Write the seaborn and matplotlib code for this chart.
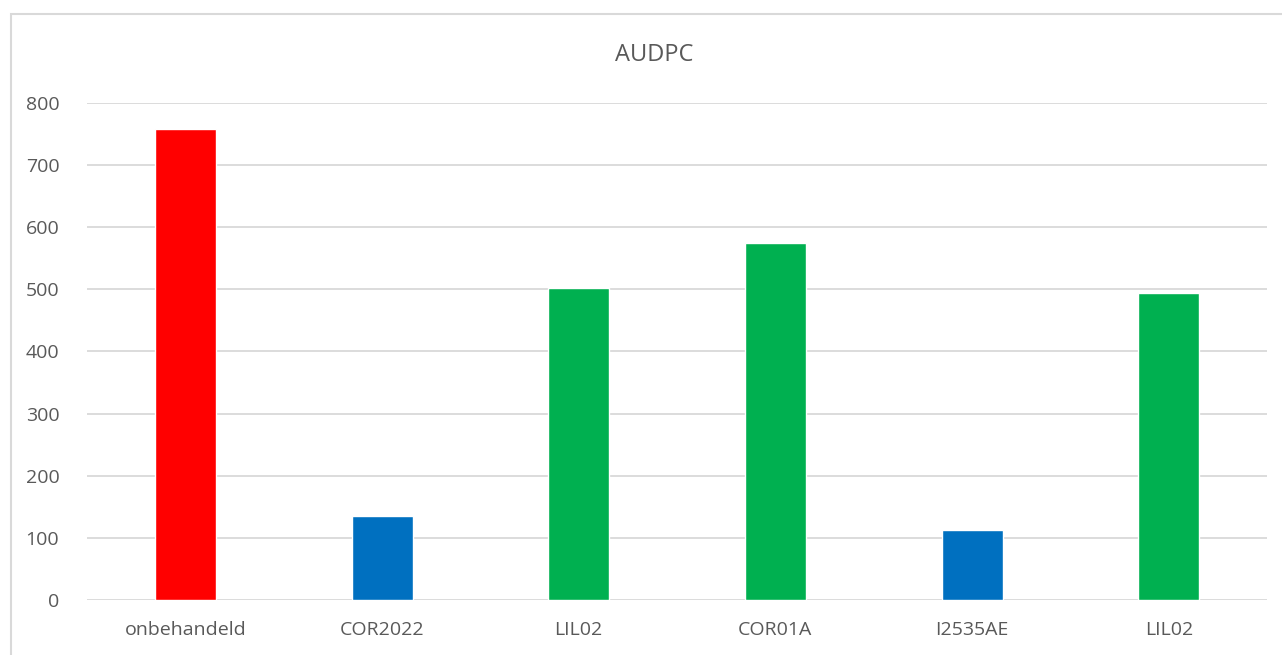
import matplotlib
matplotlib.use("Agg")
import matplotlib.pyplot as plt
import seaborn as sns
import pandas as pd
from matplotlib.patches import Rectangle

# values
labels = ["onbehandeld", "COR2022", "LIL02", "COR01A", "I2535AE", "LIL02"]
audpc = [758, 135, 502, 574, 112, 494]
bar_colors = ["#FF0000", "#0070C0", "#00B050", "#00B050", "#0070C0", "#00B050"]

# labels repeat (LIL02 twice), so plot on a position index
df = pd.DataFrame({"pos": range(len(labels)), "AUDPC": audpc})

sns.set_style("white")
plt.rcParams["font.family"] = ["Open Sans", "DejaVu Sans"]
text_color = "#595959"

fig = plt.figure(figsize=(12.82, 6.55), dpi=100)
ax = fig.add_axes([0.0679, 0.084, 0.9205, 0.759])

sns.barplot(data=df, x="pos", y="AUDPC", hue="pos", palette=bar_colors,
            legend=False, width=0.31, saturation=1, ax=ax)

ax.set_ylim(0, 800)
ax.set_yticks(range(0, 801, 100))
ax.set_xlim(-0.5, len(labels) - 0.5)
ax.set_xticks(range(len(labels)))
ax.set_xticklabels(labels)
ax.set_xlabel("")
ax.set_ylabel("")
ax.grid(axis="y", color="#d9d9d9", linewidth=1.3)
ax.set_axisbelow(True)
for s in ax.spines.values():
    s.set_visible(False)
ax.tick_params(axis="both", length=0, labelsize=14, colors=text_color)
ax.tick_params(axis="y", pad=20)
ax.tick_params(axis="x", pad=15)

fig.text(0.51, 0.916, "AUDPC", ha="center", va="center", fontsize=17, color=text_color)

# chart frame
fig.patches.append(Rectangle((0.0086, -0.01), 1.2, 0.988, transform=fig.transFigure,
                             fill=False, edgecolor="#d9d9d9", linewidth=1.5))

fig.savefig("out.png", dpi=100)
